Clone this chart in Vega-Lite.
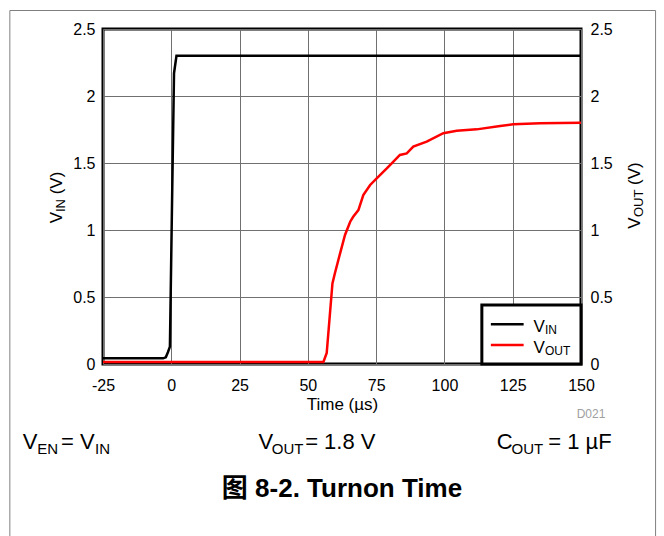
{
  "$schema": "https://vega.github.io/schema/vega-lite/v6.json",
  "autosize": {"type": "none"},
  "width": 478,
  "height": 335,
  "padding": {"left": 103, "top": 29, "right": 83, "bottom": 172},
  "background": "white",
  "config": {
    "font": "Liberation Sans",
    "view": {"stroke": "black", "strokeWidth": 3},
    "axis": {"labelColor": "black", "titleColor": "black", "labelFont": "Liberation Sans", "titleFont": "Liberation Sans"}
  },
  "datasets": {
    "curves": [
      {"series": "VIN", "t": -25, "v": 0.042},
      {"series": "VIN", "t": -3, "v": 0.042},
      {"series": "VIN", "t": -2, "v": 0.05},
      {"series": "VIN", "t": -1.2, "v": 0.09},
      {"series": "VIN", "t": -0.5, "v": 0.13},
      {"series": "VIN", "t": 0.2, "v": 1.1},
      {"series": "VIN", "t": 1.0, "v": 2.17},
      {"series": "VIN", "t": 1.9, "v": 2.3},
      {"series": "VIN", "t": 150, "v": 2.3},
      {"series": "VOUT", "t": -25, "v": 0.015},
      {"series": "VOUT", "t": 55.7, "v": 0.015},
      {"series": "VOUT", "t": 56.9, "v": 0.082},
      {"series": "VOUT", "t": 59.0, "v": 0.602},
      {"series": "VOUT", "t": 59.9, "v": 0.677},
      {"series": "VOUT", "t": 61.8, "v": 0.826},
      {"series": "VOUT", "t": 63.6, "v": 0.963},
      {"series": "VOUT", "t": 65.5, "v": 1.062},
      {"series": "VOUT", "t": 66.6, "v": 1.099},
      {"series": "VOUT", "t": 68.5, "v": 1.149},
      {"series": "VOUT", "t": 70.3, "v": 1.26},
      {"series": "VOUT", "t": 72.8, "v": 1.336},
      {"series": "VOUT", "t": 75.2, "v": 1.386},
      {"series": "VOUT", "t": 78.9, "v": 1.46},
      {"series": "VOUT", "t": 80.7, "v": 1.498},
      {"series": "VOUT", "t": 83.7, "v": 1.56},
      {"series": "VOUT", "t": 86.2, "v": 1.572},
      {"series": "VOUT", "t": 88.6, "v": 1.622},
      {"series": "VOUT", "t": 93.5, "v": 1.659},
      {"series": "VOUT", "t": 99.6, "v": 1.722},
      {"series": "VOUT", "t": 104.5, "v": 1.741},
      {"series": "VOUT", "t": 111.8, "v": 1.751},
      {"series": "VOUT", "t": 120.4, "v": 1.776},
      {"series": "VOUT", "t": 125.2, "v": 1.789},
      {"series": "VOUT", "t": 135, "v": 1.796},
      {"series": "VOUT", "t": 150, "v": 1.8}
    ],
    "legendBox": [{"t1": 113.7, "t2": 150, "v1": 0, "v2": 0.44}],
    "legendLines": [
      {"series": "VIN", "t1": 117.0, "t2": 129.0, "v": 0.296},
      {"series": "VOUT", "t1": 117.0, "t2": 129.0, "v": 0.142}
    ],
    "frame": [{"t1": -59.1, "t2": 177.3, "v1": -1.35, "v2": 2.638}],
    "notes": [
      {"part": "legend", "text": "V", "t": 132.6, "v": 0.241},
      {"part": "legendSub", "text": "IN", "t": 136.8, "v": 0.241},
      {"part": "legend", "text": "V", "t": 132.6, "v": 0.084},
      {"part": "legendSub", "text": "OUT", "t": 136.8, "v": 0.084},
      {"part": "axisTitle", "text": "V", "t": -40.1, "v": 1.05},
      {"part": "axisTitleSub", "text": "IN", "t": -40.1, "v": 1.134},
      {"part": "axisTitle", "text": "(V)", "t": -40.1, "v": 1.266},
      {"part": "axisTitle", "text": "V", "t": 171.6, "v": 1.009},
      {"part": "axisTitleSub", "text": "OUT", "t": 171.6, "v": 1.097},
      {"part": "axisTitle", "text": "(V)", "t": 171.6, "v": 1.336},
      {"part": "footer", "text": "V", "t": -54.4, "v": -0.637},
      {"part": "footerSub", "text": "EN", "t": -49.1, "v": -0.637},
      {"part": "footer", "text": "= V", "t": -40.4, "v": -0.637},
      {"part": "footerSub", "text": "IN", "t": -27.9, "v": -0.637},
      {"part": "footer", "text": "V", "t": 31.9, "v": -0.637},
      {"part": "footerSub", "text": "OUT", "t": 36.8, "v": -0.637},
      {"part": "footer", "text": "= 1.8 V", "t": 49.0, "v": -0.637},
      {"part": "footer", "text": "C", "t": 119.2, "v": -0.637},
      {"part": "footerSub", "text": "OUT", "t": 124.6, "v": -0.637},
      {"part": "footer", "text": "= 1 µF", "t": 138.0, "v": -0.637},
      {"part": "code", "text": "D021", "t": 148.4, "v": -0.405},
      {"part": "caption", "text": "图 8-2. Turnon Time", "t": 62.5, "v": -0.995}
    ]
  },
  "resolve": {"axis": {"x": "independent", "y": "independent"}},
  "layer": [
    {
      "data": {"name": "curves"},
      "mark": {"type": "line", "strokeWidth": 2.5},
      "encoding": {
        "x": {
          "field": "t", "type": "quantitative",
          "scale": {"domain": [-25, 150], "nice": false, "zero": false},
          "axis": {
            "values": [-25, 0, 25, 50, 75, 100, 125, 150],
            "labelExpr": "'' + datum.value",
            "labelFlush": false,
            "grid": true, "gridColor": "#707070", "gridWidth": 1, "gridOpacity": 1,
            "ticks": false, "domain": false,
            "labelPadding": 13, "labelFontSize": 16,
            "title": "Time (µs)", "titleFontSize": 17, "titleFontWeight": "normal", "titlePadding": 3
          }
        },
        "y": {
          "field": "v", "type": "quantitative",
          "scale": {"domain": [0, 2.5], "nice": false, "zero": false},
          "axis": {
            "orient": "left",
            "values": [0, 0.5, 1, 1.5, 2, 2.5],
            "labelExpr": "'' + datum.value",
            "grid": true, "gridColor": "#707070", "gridWidth": 1, "gridOpacity": 1,
            "ticks": false, "domain": false,
            "labelPadding": 8, "labelFontSize": 16,
            "title": null
          }
        },
        "color": {
          "field": "series", "type": "nominal",
          "scale": {"domain": ["VIN", "VOUT"], "range": ["#000000", "#ff0000"]},
          "legend": null
        }
      }
    },
    {
      "data": {"name": "legendBox"},
      "mark": {"type": "rect", "fill": "white", "stroke": "black", "strokeWidth": 3},
      "encoding": {
        "x": {"field": "t1", "type": "quantitative", "scale": {"domain": [-25, 150], "nice": false, "zero": false}, "axis": null},
        "x2": {"field": "t2"},
        "y": {
          "field": "v1", "type": "quantitative",
          "scale": {"domain": [0, 2.5], "nice": false, "zero": false},
          "axis": {
            "orient": "right",
            "values": [0, 0.5, 1, 1.5, 2, 2.5],
            "labelExpr": "'' + datum.value",
            "grid": false, "ticks": false, "domain": false,
            "labelPadding": 9, "labelFontSize": 16,
            "title": null
          }
        },
        "y2": {"field": "v2"}
      }
    },
    {
      "data": {"name": "legendLines"},
      "mark": {"type": "rule", "strokeWidth": 2.5},
      "encoding": {
        "x": {"field": "t1", "type": "quantitative", "scale": {"domain": [-25, 150], "nice": false, "zero": false}, "axis": null},
        "x2": {"field": "t2"},
        "y": {"field": "v", "type": "quantitative", "scale": {"domain": [0, 2.5], "nice": false, "zero": false}, "axis": null},
        "color": {"field": "series", "type": "nominal", "scale": {"domain": ["VIN", "VOUT"], "range": ["#000000", "#ff0000"]}, "legend": null}
      }
    },
    {
      "data": {"name": "notes"},
      "transform": [{"filter": "datum.part === 'legend'"}],
      "mark": {"type": "text", "align": "left", "baseline": "alphabetic", "fontSize": 17, "color": "black"},
      "encoding": {
        "x": {"field": "t", "type": "quantitative", "scale": {"domain": [-25, 150], "nice": false, "zero": false}, "axis": null},
        "y": {"field": "v", "type": "quantitative", "scale": {"domain": [0, 2.5], "nice": false, "zero": false}, "axis": null},
        "text": {"field": "text"}
      }
    },
    {
      "data": {"name": "notes"},
      "transform": [{"filter": "datum.part === 'legendSub'"}],
      "mark": {"type": "text", "align": "left", "baseline": "alphabetic", "fontSize": 12, "dy": 2, "color": "black"},
      "encoding": {
        "x": {"field": "t", "type": "quantitative", "scale": {"domain": [-25, 150], "nice": false, "zero": false}, "axis": null},
        "y": {"field": "v", "type": "quantitative", "scale": {"domain": [0, 2.5], "nice": false, "zero": false}, "axis": null},
        "text": {"field": "text"}
      }
    },
    {
      "data": {"name": "notes"},
      "transform": [{"filter": "datum.part === 'axisTitle'"}],
      "mark": {"type": "text", "align": "left", "baseline": "alphabetic", "fontSize": 17, "angle": 270, "color": "black"},
      "encoding": {
        "x": {"field": "t", "type": "quantitative", "scale": {"domain": [-25, 150], "nice": false, "zero": false}, "axis": null},
        "y": {"field": "v", "type": "quantitative", "scale": {"domain": [0, 2.5], "nice": false, "zero": false}, "axis": null},
        "text": {"field": "text"}
      }
    },
    {
      "data": {"name": "notes"},
      "transform": [{"filter": "datum.part === 'axisTitleSub'"}],
      "mark": {"type": "text", "align": "left", "baseline": "alphabetic", "fontSize": 13, "angle": 270, "dy": 3, "color": "black"},
      "encoding": {
        "x": {"field": "t", "type": "quantitative", "scale": {"domain": [-25, 150], "nice": false, "zero": false}, "axis": null},
        "y": {"field": "v", "type": "quantitative", "scale": {"domain": [0, 2.5], "nice": false, "zero": false}, "axis": null},
        "text": {"field": "text"}
      }
    },
    {
      "data": {"name": "notes"},
      "transform": [{"filter": "datum.part === 'footer'"}],
      "mark": {"type": "text", "align": "left", "baseline": "alphabetic", "fontSize": 22, "color": "black"},
      "encoding": {
        "x": {"field": "t", "type": "quantitative", "scale": {"domain": [-25, 150], "nice": false, "zero": false}, "axis": null},
        "y": {"field": "v", "type": "quantitative", "scale": {"domain": [0, 2.5], "nice": false, "zero": false}, "axis": null},
        "text": {"field": "text"}
      }
    },
    {
      "data": {"name": "notes"},
      "transform": [{"filter": "datum.part === 'footerSub'"}],
      "mark": {"type": "text", "align": "left", "baseline": "alphabetic", "fontSize": 15, "dy": 5, "color": "black"},
      "encoding": {
        "x": {"field": "t", "type": "quantitative", "scale": {"domain": [-25, 150], "nice": false, "zero": false}, "axis": null},
        "y": {"field": "v", "type": "quantitative", "scale": {"domain": [0, 2.5], "nice": false, "zero": false}, "axis": null},
        "text": {"field": "text"}
      }
    },
    {
      "data": {"name": "notes"},
      "transform": [{"filter": "datum.part === 'code'"}],
      "mark": {"type": "text", "align": "left", "baseline": "alphabetic", "fontSize": 12, "color": "#a0a0a0"},
      "encoding": {
        "x": {"field": "t", "type": "quantitative", "scale": {"domain": [-25, 150], "nice": false, "zero": false}, "axis": null},
        "y": {"field": "v", "type": "quantitative", "scale": {"domain": [0, 2.5], "nice": false, "zero": false}, "axis": null},
        "text": {"field": "text"}
      }
    },
    {
      "data": {"name": "notes"},
      "transform": [{"filter": "datum.part === 'caption'"}],
      "mark": {"type": "text", "align": "center", "baseline": "alphabetic", "fontSize": 26, "fontWeight": "bold", "font": "Liberation Sans, Noto Sans CJK SC", "color": "black"},
      "encoding": {
        "x": {"field": "t", "type": "quantitative", "scale": {"domain": [-25, 150], "nice": false, "zero": false}, "axis": null},
        "y": {"field": "v", "type": "quantitative", "scale": {"domain": [0, 2.5], "nice": false, "zero": false}, "axis": null},
        "text": {"field": "text"}
      }
    },
    {
      "data": {"name": "frame"},
      "mark": {"type": "rect", "fill": "white", "fillOpacity": 0, "stroke": "#808080", "strokeWidth": 1},
      "encoding": {
        "x": {"field": "t1", "type": "quantitative", "scale": {"domain": [-25, 150], "nice": false, "zero": false}, "axis": null},
        "x2": {"field": "t2"},
        "y": {"field": "v1", "type": "quantitative", "scale": {"domain": [0, 2.5], "nice": false, "zero": false}, "axis": null},
        "y2": {"field": "v2"}
      }
    }
  ]
}
